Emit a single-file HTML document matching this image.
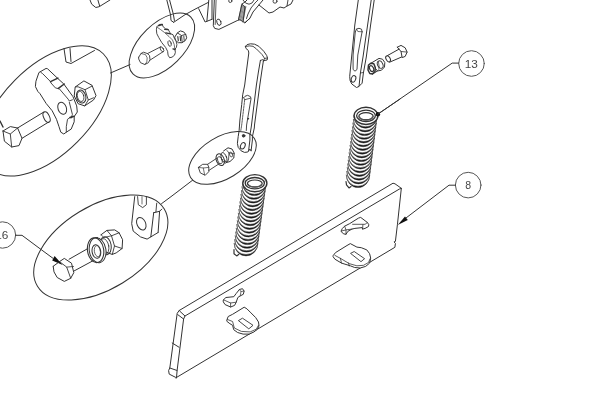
<!DOCTYPE html>
<html><head><meta charset="utf-8"><style>
html,body{margin:0;padding:0;background:#fff;width:600px;height:409px;overflow:hidden}
svg{display:block;filter:grayscale(1)}
text{font-family:"Liberation Sans",sans-serif;fill:#444;stroke:none;opacity:0.99}
</style></head><body>
<svg width="600" height="409" viewBox="0 0 600 409">
<g fill="none" stroke="#333" stroke-width="1" stroke-linejoin="round" stroke-linecap="round">
<ellipse cx="46.3" cy="110.9" rx="80.7" ry="43.9" transform="rotate(-45.1 46.3 110.9)"/>
<ellipse cx="161.9" cy="45.5" rx="40.6" ry="21.8" transform="rotate(-44.5 161.9 45.5)"/>
<ellipse cx="222.5" cy="157.9" rx="37.4" ry="20.9" transform="rotate(-31.4 222.5 157.9)"/>
<ellipse cx="100.8" cy="247.5" rx="74.2" ry="41.6" transform="rotate(-31.4 100.8 247.5)"/>
<path d="M110.5,73.0 L130.0,64.6"/>
<path d="M173.7,22.3 L185.0,14.7 L195.0,9.2 L208.5,2.3"/>
<path d="M192.6,180.2 L172.0,195.9 L161.5,203.7"/>
<path d="M234.15,243.40 A11.85,12.50 0 0 0 257.85,243.40 A11.85,11.10 0 0 1 234.15,243.40 Z" fill="#111" stroke-width="0.5"/>
<path d="M234.67,239.63 A11.85,12.50 0 0 0 258.37,239.63 A11.85,11.10 0 0 1 234.67,239.63 Z" fill="#111" stroke-width="0.5"/>
<path d="M235.19,235.86 A11.85,12.50 0 0 0 258.89,235.86 A11.85,11.10 0 0 1 235.19,235.86 Z" fill="#111" stroke-width="0.5"/>
<path d="M235.71,232.09 A11.85,12.50 0 0 0 259.41,232.09 A11.85,11.10 0 0 1 235.71,232.09 Z" fill="#111" stroke-width="0.5"/>
<path d="M236.23,228.32 A11.85,12.50 0 0 0 259.93,228.32 A11.85,11.10 0 0 1 236.23,228.32 Z" fill="#111" stroke-width="0.5"/>
<path d="M236.75,224.55 A11.85,12.50 0 0 0 260.45,224.55 A11.85,11.10 0 0 1 236.75,224.55 Z" fill="#111" stroke-width="0.5"/>
<path d="M237.27,220.78 A11.85,12.50 0 0 0 260.97,220.78 A11.85,11.10 0 0 1 237.27,220.78 Z" fill="#111" stroke-width="0.5"/>
<path d="M237.79,217.01 A11.85,12.50 0 0 0 261.49,217.01 A11.85,11.10 0 0 1 237.79,217.01 Z" fill="#111" stroke-width="0.5"/>
<path d="M238.31,213.24 A11.85,12.50 0 0 0 262.01,213.24 A11.85,11.10 0 0 1 238.31,213.24 Z" fill="#111" stroke-width="0.5"/>
<path d="M238.84,209.46 A11.85,12.50 0 0 0 262.54,209.46 A11.85,11.10 0 0 1 238.84,209.46 Z" fill="#111" stroke-width="0.5"/>
<path d="M239.36,205.69 A11.85,12.50 0 0 0 263.06,205.69 A11.85,11.10 0 0 1 239.36,205.69 Z" fill="#111" stroke-width="0.5"/>
<path d="M239.88,201.92 A11.85,12.50 0 0 0 263.58,201.92 A11.85,11.10 0 0 1 239.88,201.92 Z" fill="#111" stroke-width="0.5"/>
<path d="M240.40,198.15 A11.85,12.50 0 0 0 264.10,198.15 A11.85,11.10 0 0 1 240.40,198.15 Z" fill="#111" stroke-width="0.5"/>
<path d="M240.92,194.38 A11.85,12.50 0 0 0 264.62,194.38 A11.85,11.10 0 0 1 240.92,194.38 Z" fill="#111" stroke-width="0.5"/>
<path d="M241.44,190.61 A11.85,12.50 0 0 0 265.14,190.61 A11.85,11.10 0 0 1 241.44,190.61 Z" fill="#111" stroke-width="0.5"/>
<path d="M241.96,186.84 A11.85,12.50 0 0 0 265.66,186.84 A11.85,11.10 0 0 1 241.96,186.84 Z" fill="#111" stroke-width="0.5"/>
<path d="M242.48,183.07 A11.85,12.50 0 0 0 266.18,183.07 A11.85,11.10 0 0 1 242.48,183.07 Z" fill="#111" stroke-width="0.5"/>
<ellipse cx="254.85" cy="183.20" rx="12.05" ry="8.60" fill="#fff" stroke-width="1.4"/>
<ellipse cx="254.8" cy="183.2" rx="9.6" ry="5.7" transform="rotate(0.0 254.8 183.2)" stroke-width="1.3"/>
<ellipse cx="254.8" cy="183.5" rx="7.4" ry="3.5" transform="rotate(0.0 254.8 183.5)" stroke-width="1.2"/>
<path d="M248.3,184.4 A6.6,3.0 0 0 0 261.4,184.4" stroke-width="1.4" stroke="#555"/>
<path d="M346.30,175.10 A11.70,12.50 0 0 0 369.70,175.10 A11.70,11.10 0 0 1 346.30,175.10 Z" fill="#111" stroke-width="0.5"/>
<path d="M346.77,171.39 A11.70,12.50 0 0 0 370.17,171.39 A11.70,11.10 0 0 1 346.77,171.39 Z" fill="#111" stroke-width="0.5"/>
<path d="M347.24,167.67 A11.70,12.50 0 0 0 370.64,167.67 A11.70,11.10 0 0 1 347.24,167.67 Z" fill="#111" stroke-width="0.5"/>
<path d="M347.71,163.96 A11.70,12.50 0 0 0 371.11,163.96 A11.70,11.10 0 0 1 347.71,163.96 Z" fill="#111" stroke-width="0.5"/>
<path d="M348.18,160.24 A11.70,12.50 0 0 0 371.58,160.24 A11.70,11.10 0 0 1 348.18,160.24 Z" fill="#111" stroke-width="0.5"/>
<path d="M348.65,156.53 A11.70,12.50 0 0 0 372.05,156.53 A11.70,11.10 0 0 1 348.65,156.53 Z" fill="#111" stroke-width="0.5"/>
<path d="M349.12,152.81 A11.70,12.50 0 0 0 372.52,152.81 A11.70,11.10 0 0 1 349.12,152.81 Z" fill="#111" stroke-width="0.5"/>
<path d="M349.59,149.10 A11.70,12.50 0 0 0 372.99,149.10 A11.70,11.10 0 0 1 349.59,149.10 Z" fill="#111" stroke-width="0.5"/>
<path d="M350.06,145.38 A11.70,12.50 0 0 0 373.46,145.38 A11.70,11.10 0 0 1 350.06,145.38 Z" fill="#111" stroke-width="0.5"/>
<path d="M350.54,141.67 A11.70,12.50 0 0 0 373.94,141.67 A11.70,11.10 0 0 1 350.54,141.67 Z" fill="#111" stroke-width="0.5"/>
<path d="M351.01,137.95 A11.70,12.50 0 0 0 374.41,137.95 A11.70,11.10 0 0 1 351.01,137.95 Z" fill="#111" stroke-width="0.5"/>
<path d="M351.48,134.24 A11.70,12.50 0 0 0 374.88,134.24 A11.70,11.10 0 0 1 351.48,134.24 Z" fill="#111" stroke-width="0.5"/>
<path d="M351.95,130.52 A11.70,12.50 0 0 0 375.35,130.52 A11.70,11.10 0 0 1 351.95,130.52 Z" fill="#111" stroke-width="0.5"/>
<path d="M352.42,126.81 A11.70,12.50 0 0 0 375.82,126.81 A11.70,11.10 0 0 1 352.42,126.81 Z" fill="#111" stroke-width="0.5"/>
<path d="M352.89,123.09 A11.70,12.50 0 0 0 376.29,123.09 A11.70,11.10 0 0 1 352.89,123.09 Z" fill="#111" stroke-width="0.5"/>
<path d="M353.36,119.38 A11.70,12.50 0 0 0 376.76,119.38 A11.70,11.10 0 0 1 353.36,119.38 Z" fill="#111" stroke-width="0.5"/>
<path d="M353.83,115.66 A11.70,12.50 0 0 0 377.23,115.66 A11.70,11.10 0 0 1 353.83,115.66 Z" fill="#111" stroke-width="0.5"/>
<ellipse cx="366.00" cy="115.85" rx="11.90" ry="8.60" fill="#fff" stroke-width="1.4"/>
<ellipse cx="366.0" cy="115.8" rx="9.4" ry="5.7" transform="rotate(0.0 366.0 115.8)" stroke-width="1.3"/>
<ellipse cx="366.0" cy="116.2" rx="7.2" ry="3.5" transform="rotate(0.0 366.0 116.2)" stroke-width="1.2"/>
<path d="M359.6,117.0 A6.4,3.0 0 0 0 372.4,117.0" stroke-width="1.4" stroke="#555"/>
<path d="M234.0,249.5 L234.0,253.7 L236.7,255.9 L238.9,254.3" stroke-width="1.2"/>
<path d="M346.0,181.5 L346.5,184.8 L349.0,187.9 L351.0,186.5" stroke-width="1.2"/>
<circle cx="377.9" cy="114.3" r="2.2" fill="#111" stroke="none"/>
<path d="M179.2,310.5 L393.0,183.2 L395.0,183.8 L401.3,188.3"/>
<path d="M185.0,316.0 L399.3,189.1 L401.3,188.4"/>
<path d="M401.3,188.6 L397.4,224.8 L395.4,241.4 L394.0,241.9 L395.4,243.4 L394.9,247.3 L175.9,377.8"/>
<path d="M179.2,310.5 L177.2,313.3 L169.8,368.0 L168.6,370.5 L169.2,374.1 L175.3,377.2 L176.5,377.8"/>
<path d="M179.7,311.1 L185.0,316.0 L183.6,319.0 L177.1,370.5 L176.5,377.8"/>
<path d="M177.7,314.6 L183.6,319.0"/>
<path d="M172.2,343.0 L179.0,347.2"/>
<path d="M169.8,368.0 L177.1,370.5"/>
<path d="M341.3,230.6 L342.4,228.4 L344.6,226.2 L349.7,223.6 L358.5,218.1 L360.7,217.4 L367.4,222.5 L368.8,224.7 L368.5,226.5 L365.1,228.4 L362.6,229.1 L362.2,227.6 L354.9,228.4 L351.9,229.1 L347.9,231.3 L346.0,234.3 L343.8,233.9 L341.6,232.1 Z" stroke-width="1.0" fill="#fff"/>
<path d="M344.6,226.2 L346.0,229.9 L346.0,234.3" stroke-width="0.8"/>
<path d="M341.5,231.0 L346.0,229.9 L351.9,229.1" stroke-width="0.8"/>
<path d="M352.6,224.3 L365.1,224.3 L367.4,222.5" stroke-width="0.8"/>
<path d="M362.9,224.7 L362.6,229.1" stroke-width="0.8"/>
<path d="M223.5,299.8 L225.9,297.5 L233.8,296.7 L236.2,293.5 L239.4,289.5 L242.5,288.7 L244.1,291.1 L243.3,294.3 L240.2,295.9 L237.8,297.5 L236.2,302.2 L234.6,305.4 L230.6,307.0 L225.1,304.6 L223.5,302.2 Z" stroke-width="1.0" fill="#fff"/>
<path d="M223.5,299.8 L230.6,303.0 L236.2,302.2" stroke-width="0.8"/>
<path d="M230.6,303.0 L230.6,307.0" stroke-width="0.8"/>
<path d="M239.4,289.5 L241.0,291.5 L240.2,295.9" stroke-width="0.7"/>
<path d="M241.0,291.5 L244.1,291.1" stroke-width="0.7"/>
<path d="M333.3,255.4 L335.5,252.6 L347.0,245.5 L350.3,243.6 L356.9,247.1 L361.3,247.7 L366.8,249.9 L369.6,253.7 L370.7,258.1 L369.6,263.1 L365.7,266.4 L360.2,268.0 L354.7,267.5 L350.3,265.8 L341.5,263.1 L334.9,259.2 L333.3,257.0 Z" stroke-width="1.0" fill="#fff"/>
<path d="M334.9,255.4 L341.0,258.7 L349.2,263.6 L356.9,265.8 L363.5,265.3 L368.5,262.5 L370.1,258.7" stroke-width="0.8"/>
<path d="M350.9,253.2 L354.2,251.5 L364.6,258.7 L361.3,261.4 Z" stroke-width="0.9"/>
<path d="M340.4,258.3 L341.5,263.1" stroke-width="0.8"/>
<path d="M348.6,263.0 L349.2,266.0" stroke-width="0.8"/>
<path d="M227.1,319.3 L228.2,316.5 L232.6,314.3 L244.2,307.2 L246.9,308.8 L250.2,312.1 L255.7,317.6 L258.5,322.0 L259.0,325.9 L257.4,329.2 L254.0,331.9 L249.1,334.1 L243.1,334.1 L237.6,332.5 L233.7,329.7 L232.6,325.3 L229.9,323.7 L227.1,321.5 Z" stroke-width="1.0" fill="#fff"/>
<path d="M227.5,319.5 L232.6,321.5 L234.3,328.0 L241.4,331.4 L250.2,331.9 L256.3,329.2 L258.5,325.3" stroke-width="0.8"/>
<path d="M238.7,320.4 L242.5,318.2 L253.0,325.3 L249.1,328.6 Z" stroke-width="0.9"/>
<circle cx="471.5" cy="63.5" r="12.8" stroke="#555"/>
<circle cx="468.2" cy="185.1" r="12.8" stroke="#555"/>
<circle cx="2.5" cy="235" r="13.2" stroke="#555"/>
<text x="471.3" y="67.6" font-size="11.8" text-anchor="middle">13</text>
<text x="468.2" y="188.8" font-size="10.5" text-anchor="middle">8</text>
<text x="1.8" y="239.3" font-size="11.8" text-anchor="middle">16</text>
<path d="M458.7,63.1 L452.2,63.1 L377.9,114.1"/>
<path d="M455.6,185.2 L449.0,185.2 L404.0,219.5"/>
<path d="M397.7,224.9 L405.0,216.5 L407.8,220.1 Z" fill="#111" stroke="none"/>
<path d="M15.6,235.3 L22.0,235.3 L41.2,249.6 L53.0,258.3"/>
<path d="M62.7,265 L52.2,260.6 L54.6,256.1 Z" fill="#111" stroke="none"/>
<path d="M400.0,99.1 L377.9,114.1"/>
<path d="M245.5,46.3 L247.1,44.6 L250.5,43.8 L254.6,44.2 L258.8,46.3 L263.8,51.3 L266.7,55.5 L267.5,58.0 L267.1,60.0 L265.0,60.4 L263.4,60.9"/>
<path d="M246.3,46.3 L249.6,45.9 L253.0,46.3 L256.3,48.8 L262.1,54.6 L264.6,58.4 L267.1,58.0" stroke-width="0.9"/>
<path d="M264.6,58.4 L263.4,60.9" stroke-width="0.9"/>
<path d="M245.5,46.3 L245.9,48.4 L248.4,50.5 L248.8,53.0 L246.3,72.0 L244.7,85.0 L242.7,94.8 L241.7,104.6 L239.9,120.0 L239.1,130.8 L238.2,136.6 L237.4,143.3 L238.2,147.4 L241.1,150.8 L244.5,152.4 L247.8,152.0 L249.9,149.1 L251.1,150.8"/>
<path d="M260.4,60.4 L258.4,72.0 L256.4,85.0 L251.5,125.0 L251.1,128.0 L249.9,135.0 L249.9,140.0 L248.6,150.8"/>
<path d="M263.4,60.9 L261.7,72.0 L259.8,85.0 L254.5,125.0 L254.3,128.0 L252.4,136.6 L252.4,140.0 L251.1,150.8"/>
<path d="M262.9,59.6 L260.4,60.4" stroke-width="0.9"/>
<path d="M243.7,97.7 L245.0,96.3 L247.6,95.3 L250.5,96.7 L251.0,98.7 L246.6,125.0 L246.3,130.5" stroke-width="0.9"/>
<path d="M244.7,99.7 L241.7,125.0 L240.8,130.5" stroke-width="0.8" stroke-dasharray="2 1"/>
<path d="M243.7,97.7 L244.7,99.7 L250.5,98.2" stroke-width="0.8"/>
<circle cx="243.6" cy="135.8" r="1.3" fill="#333"/>
<circle cx="248.1" cy="118.7" r="0.5" fill="#333"/>
<ellipse cx="242.8" cy="145.8" rx="2.2" ry="3.4" transform="rotate(25.0 242.8 145.8)"/>
<path d="M358.3,0.0 L354.8,25.0 L351.8,55.0 L349.7,76.4 L350.1,80.6 L351.8,84.0 L356.5,87.5 L358.7,86.6"/>
<path d="M371.2,0.0 L367.6,25.0 L363.0,57.0 L360.4,73.0 L359.1,85.8"/>
<path d="M374.2,0.0 L370.6,25.0 L366.3,57.0 L363.4,73.0 L362.1,83.2 L358.7,86.6"/>
<path d="M360.4,73.0 L363.4,72.5" stroke-width="0.8"/>
<path d="M355.3,31.8 L353.1,55.0 L353.1,69.5 L355.0,71.2 L357.0,69.5 L357.8,55.0 L362.1,31.8" stroke-width="0.9"/>
<path d="M355.3,31.8 L356.5,29.0 L359.0,28.3 L361.5,29.2 L362.1,31.8" stroke-width="0.9"/>
<path d="M356.5,29.0 L357.8,31.5 L362.1,31.8" stroke-width="0.7"/>
<ellipse cx="353.5" cy="78.9" rx="2.2" ry="3.4" transform="rotate(20.0 353.5 78.9)"/>
<path d="M375.5,60.5 L379.0,58.4 L382.5,59.2 L384.8,62.5 L384.5,67.0 L381.5,70.2 L377.5,71.0 L375.2,68.0" stroke-width="1.0"/>
<ellipse cx="380.2" cy="64.6" rx="2.6" ry="3.9" transform="rotate(-25.0 380.2 64.6)" stroke-width="0.9"/>
<path d="M378.3,61.2 L379.2,66.5 L378.8,69.5" stroke-width="0.7"/>
<path d="M368.5,65.0 L371.0,63.2 L373.8,63.8 L375.3,67.5 L375.0,71.5 L372.5,74.0 L369.8,73.5 L368.0,70.0 L368.5,65.0" stroke-width="1.5"/>
<ellipse cx="371.6" cy="68.6" rx="1.9" ry="3.1" transform="rotate(-25.0 371.6 68.6)" stroke-width="1.2"/>
<path d="M371.0,63.2 L375.5,60.5" stroke-width="1.0"/>
<path d="M372.5,74.0 L377.5,71.0" stroke-width="1.0"/>
<ellipse cx="388.1" cy="58.8" rx="2.0" ry="3.3" transform="rotate(-30.0 388.1 58.8)"/>
<path d="M387.4,55.6 L399.1,49.1"/>
<path d="M389.6,62.2 L401.6,57.0"/>
<path d="M397.3,47.2 L401.0,45.4 L405.2,47.8 L407.1,52.1 L405.2,56.4 L402.2,57.6 L401.0,51.5 L397.3,47.2"/>
<path d="M401.0,51.5 L407.1,52.1" stroke-width="0.8"/>
<path d="M198.7,8.7 L205.1,22.0 L212.0,19.3"/>
<path d="M208.8,0.0 L206.9,21.1"/>
<path d="M212.0,0.0 L212.0,19.3"/>
<path d="M214.3,0.0 L213.3,25.7 L214.7,28.4 L218.9,29.4 L237.2,20.6 L240.0,19.7 L242.7,21.6 L245.0,22.5 L250.0,18.3"/>
<path d="M216.1,0.0 L215.2,24.5" stroke-width="0.8"/>
<ellipse cx="218.9" cy="22.2" rx="2.0" ry="3.3" transform="rotate(-20.0 218.9 22.2)" stroke-width="0.9"/>
<ellipse cx="230.3" cy="0.9" rx="1.6" ry="1.6" transform="rotate(0.0 230.3 0.9)" stroke-width="0.9"/>
<path d="M238.5,19.5 L242.0,4.0 L245.0,2.0 L247.0,0.0"/>
<path d="M245.0,7.0 L243.0,22.0"/>
<path d="M241.5,5.0 L238.7,19.5" stroke-width="0.6"/>
<path d="M242.6,5.4 L239.8,19.8" stroke-width="0.6"/>
<path d="M243.7,5.8 L240.9,20.1" stroke-width="0.6"/>
<path d="M244.8,6.2 L242.0,20.4" stroke-width="0.6"/>
<path d="M245.9,6.6 L243.1,20.7" stroke-width="0.6"/>
<path d="M242.0,4.0 L245.0,7.0" stroke-width="0.8"/>
<path d="M243.0,0.0 L245.5,3.0 L249.0,4.2 L252.0,3.0 L254.0,0.0" stroke-width="0.9"/>
<path d="M263.0,0.0 L258.0,6.0 L253.0,12.0 L250.0,18.0 L245.0,23.0"/>
<path d="M258.0,0.0 L255.0,3.0 L251.0,8.0 L248.0,14.0 L246.5,18.5" stroke-width="0.9"/>
<path d="M259.0,5.0 L269.0,13.0 L273.0,12.0 L280.0,7.0 L284.0,8.0 L287.0,6.0 L291.0,4.0 L293.0,0.0"/>
<path d="M288.0,0.0 L287.0,6.0" stroke-width="0.9"/>
<ellipse cx="275.0" cy="1.2" rx="2.0" ry="2.0" transform="rotate(0.0 275.0 1.2)" stroke-width="0.9"/>
<path d="M166.8,0.0 L170.6,15.1 L171.0,20.5 L173.7,22.3"/>
<path d="M169.6,0.0 L173.4,14.4 L174.4,20.5"/>
<path d="M90.0,0.0 L91.7,4.2 L95.8,7.5 L99.2,6.7 L110.0,0.0"/>
<path d="M97.9,0.0 L99.6,5.8"/>
<path d="M39.3,72.3 L46.1,68.4 L47.6,68.8 L57.4,78.1 L63.8,84.0 L73.0,96.7 L76.7,105.9 L77.3,112.0 L74.8,115.7 L74.2,116.3 L74.2,121.8 L71.2,129.1 L66.3,132.2 L63.8,134.0 L60.8,132.2 L59.0,126.7 L56.5,119.3 L52.2,110.8 L46.1,103.4 L40.0,93.7 L37.8,91.4 L35.4,86.5 L35.9,81.6 Z" stroke-width="1.0"/>
<path d="M40.8,72.3 L42.7,73.7 L50.5,81.6 L51.0,83.0 L55.4,87.9 L59.4,88.9 L68.2,99.2 L69.3,101.0 L72.4,99.8" stroke-width="0.9"/>
<path d="M50.5,81.6 L57.9,78.1" stroke-width="1.5"/>
<path d="M58.4,88.4 L64.2,84.0" stroke-width="1.5"/>
<path d="M69.3,102.2 L72.4,114.4 L71.2,118.1" stroke-width="0.9"/>
<path d="M74.2,116.3 L70.0,117.5 L67.5,119.3 L66.3,126.7 L66.3,132.2" stroke-width="0.9"/>
<path d="M70.0,117.5 L74.2,116.3" stroke-width="1.5"/>
<ellipse cx="62.2" cy="108.3" rx="4.2" ry="6.2" transform="rotate(-20.0 62.2 108.3)" stroke-width="1.0"/>
<path d="M75.5,86.8 L83.9,80.9 L92.0,85.3 L96.0,95.6 L93.5,100.0 L84.7,105.9 L78.1,103.7 L74.4,96.3 Z" stroke-width="1.0"/>
<path d="M75.5,86.8 L78.1,86.8 L85.0,89.7 L92.0,86.1" stroke-width="0.9"/>
<path d="M85.0,89.7 L88.3,100.0 L93.5,97.8" stroke-width="0.9"/>
<path d="M88.3,100.0 L84.7,105.9" stroke-width="0.9"/>
<ellipse cx="81.2" cy="96.6" rx="4.6" ry="6.6" transform="rotate(-15.0 81.2 96.6)" stroke-width="1.0"/>
<ellipse cx="80.6" cy="96.4" rx="3.2" ry="5.2" transform="rotate(-15.0 80.6 96.4)" stroke-width="0.8"/>
<path d="M64.0,48.5 L66.0,62.0 L71.0,63.5 L94.5,50.5"/>
<path d="M70.0,48.5 L71.0,61.5"/>
<path d="M17.6,128.0 L44.0,111.9"/>
<path d="M22.0,138.3 L48.4,122.2"/>
<ellipse cx="46.6" cy="117.1" rx="2.9" ry="5.6" transform="rotate(-25.0 46.6 117.1)"/>
<path d="M3.0,131.0 L10.3,126.6 L17.6,128.0 L22.0,138.3 L19.0,145.6 L11.7,147.0 L4.4,141.2 L3.0,131.0"/>
<path d="M3.0,131.0 L10.3,134.0 L17.6,128.0" stroke-width="0.9"/>
<path d="M10.3,134.0 L11.7,147.0" stroke-width="0.9"/>
<path d="M0.0,121.0 L3.0,127.0" stroke-width="1.4"/>
<path d="M157.8,25.9 L159.8,24.4 L162.2,24.4 L163.2,26.8 L165.6,28.8 L168.1,29.3 L170.5,33.7 L173.0,34.7 L174.5,38.6 L175.9,40.5 L176.9,44.4 L176.4,47.4 L174.9,49.3 L175.4,52.3 L174.5,55.2 L172.0,57.2 L169.6,57.7 L168.1,55.2 L167.6,51.3 L165.6,47.4 L161.7,42.5 L158.8,37.6 L156.8,33.7 L156.4,29.8 L156.8,26.8 Z" stroke-width="0.9"/>
<path d="M158.8,25.6 L162.2,24.6" stroke-width="1.6"/>
<path d="M164.7,29.4 L168.1,29.6" stroke-width="1.4"/>
<path d="M165.8,32.9 L170.5,33.9" stroke-width="1.4"/>
<path d="M157.5,27.5 L160.5,29.5 L164.5,32.5 L169.0,36.5 L172.5,40.0 L174.2,44.5 L174.9,49.3" stroke-width="0.7"/>
<path d="M173.0,48.9 L175.0,49.5" stroke-width="1.4"/>
<ellipse cx="169.6" cy="43.5" rx="1.6" ry="2.9" transform="rotate(-15.0 169.6 43.5)" stroke-width="0.8"/>
<path d="M174.9,36.8 L177.4,32.9 L180.3,30.9 L183.7,31.9 L185.7,34.4 L186.7,37.8 L185.2,40.7 L181.8,42.7 L178.4,42.7 L175.9,40.7 Z" stroke-width="1.0" fill="#fff"/>
<path d="M177.4,32.9 L181.5,35.5 L185.7,34.4" stroke-width="0.9"/>
<path d="M181.5,35.5 L182.2,42.6" stroke-width="0.9"/>
<path d="M177.8,36.5 L178.3,40.8" stroke-width="1.1"/>
<path d="M180.2,36.3 L180.6,40.8" stroke-width="1.1"/>
<path d="M183.8,36.0 L184.2,40.5" stroke-width="0.9"/>
<path d="M138.7,57.2 L141.0,53.5 L143.5,52.2 L147.5,53.6 L149.5,55.5 L150.0,59.7 L148.4,62.7 L144.8,64.5 L140.5,62.7 L138.7,59.0 L138.7,57.2" stroke-width="0.9"/>
<path d="M141.0,53.5 L145.5,54.6 L147.2,57.8 L146.8,62.0 L144.8,64.5" stroke-width="0.7"/>
<path d="M147.5,53.6 L160.7,46.8" stroke-width="0.9"/>
<path d="M149.9,60.2 L163.1,51.7" stroke-width="0.9"/>
<ellipse cx="162.0" cy="49.3" rx="1.4" ry="2.8" transform="rotate(-30.0 162.0 49.3)" stroke-width="0.8"/>
<path d="M198.4,167.4 L202.7,164.3 L207.6,164.3 L208.8,167.4 L208.8,171.7 L205.2,175.3 L200.3,172.9 L198.4,167.4" stroke-width="0.9"/>
<path d="M198.4,167.4 L203.3,168.0 L208.8,167.4" stroke-width="0.7"/>
<path d="M203.3,168.0 L204.6,174.7" stroke-width="0.7"/>
<path d="M207.6,164.3 L216.8,158.2" stroke-width="0.9"/>
<path d="M208.8,170.5 L219.2,163.7" stroke-width="0.9"/>
<ellipse cx="220.2" cy="159.7" rx="3.9" ry="6.1" transform="rotate(-20.0 220.2 159.7)" stroke-width="1.0"/>
<ellipse cx="219.9" cy="160.2" rx="2.2" ry="3.8" transform="rotate(-20.0 219.9 160.2)" stroke-width="0.8"/>
<ellipse cx="224.0" cy="157.8" rx="2.6" ry="5.5" transform="rotate(-20.0 224.0 157.8)" stroke-width="0.9"/>
<path d="M223.5,151.0 L228.0,147.8 L232.0,149.0 L234.2,153.0 L233.8,158.0 L230.0,161.5 L226.5,162.5 L224.5,160.0" stroke-width="1.0"/>
<path d="M227.0,150.5 L229.0,153.0 L228.5,160.0 L226.5,162.5" stroke-width="0.8"/>
<path d="M229.0,153.0 L234.0,153.5" stroke-width="0.7"/>
<ellipse cx="231.0" cy="154.5" rx="1.4" ry="2.6" transform="rotate(-20.0 231.0 154.5)" stroke-width="0.7"/>
<path d="M53.2,266.3 L59.5,261.6 L64.3,258.4 L71.5,263.2 L73.8,272.7 L70.7,278.3 L64.3,281.4 L57.2,277.5 L54.0,271.9 L53.2,266.3"/>
<path d="M59.5,261.6 L66.7,267.1 L70.7,278.3" stroke-width="0.9"/>
<path d="M66.7,267.1 L73.5,266.5" stroke-width="0.8"/>
<path d="M69.1,259.2 L87.4,248.8"/>
<path d="M73.8,271.1 L92.9,260.8"/>
<path d="M101.0,234.8 L106.9,230.4 L114.7,229.9 L119.1,232.8 L122.6,239.7 L122.1,248.5 L116.2,252.9 L112.3,254.4 L109.4,253.4 L104.5,251.4" stroke-width="1.0"/>
<path d="M106.9,230.4 L111.5,235.8 L119.1,232.8" stroke-width="0.9"/>
<path d="M111.5,235.8 L114.5,246.0 L122.1,248.5" stroke-width="0.9"/>
<path d="M114.5,246.0 L112.3,254.4" stroke-width="0.9"/>
<path d="M101.0,234.8 L104.0,237.5 L111.5,235.8" stroke-width="0.8"/>
<ellipse cx="105.6" cy="245.8" rx="5.6" ry="9.0" transform="rotate(-9.0 105.6 245.8)" stroke-width="1.0"/>
<ellipse cx="104.2" cy="246.6" rx="4.6" ry="8.0" transform="rotate(-9.0 104.2 246.6)" stroke-width="0.8"/>
<ellipse cx="97.6" cy="250.2" rx="8.3" ry="12.6" transform="rotate(-9 97.6 250.2)" fill="#fff"/>
<ellipse cx="95.6" cy="250.2" rx="8.1" ry="12.5" transform="rotate(-9.0 95.6 250.2)" stroke-width="1.1"/>
<path d="M95.6,237.7 L97.6,237.6" />
<ellipse cx="96.4" cy="251.5" rx="4.3" ry="6.9" transform="rotate(-9.0 96.4 251.5)" stroke-width="1.0"/>
<ellipse cx="97.4" cy="251.2" rx="3.0" ry="5.6" transform="rotate(-9.0 97.4 251.2)" stroke-width="0.7"/>
<path d="M134.7,196.6 L131.7,223.7 L133.2,231.1 L140.5,236.9 L147.1,239.1 L150.8,236.9 L158.1,232.5"/>
<path d="M137.6,196.6 L138.3,204.7 L142.7,207.6 L146.4,204.7 L146.4,196.6" stroke-width="0.9"/>
<path d="M142.0,196.6 L142.0,204.0" stroke-width="0.7"/>
<ellipse cx="141.3" cy="223.7" rx="4.3" ry="6.6" transform="rotate(-25.0 141.3 223.7)"/>
<path d="M153.7,212.7 L150.8,236.9"/>
<path d="M159.6,211.3 L158.1,232.5"/>
<path d="M153.7,212.7 L159.6,211.3 L161.8,209.1"/>
<path d="M156.7,203.2 L155.9,212.0" stroke-width="0.9"/>
</g></svg></body></html>
